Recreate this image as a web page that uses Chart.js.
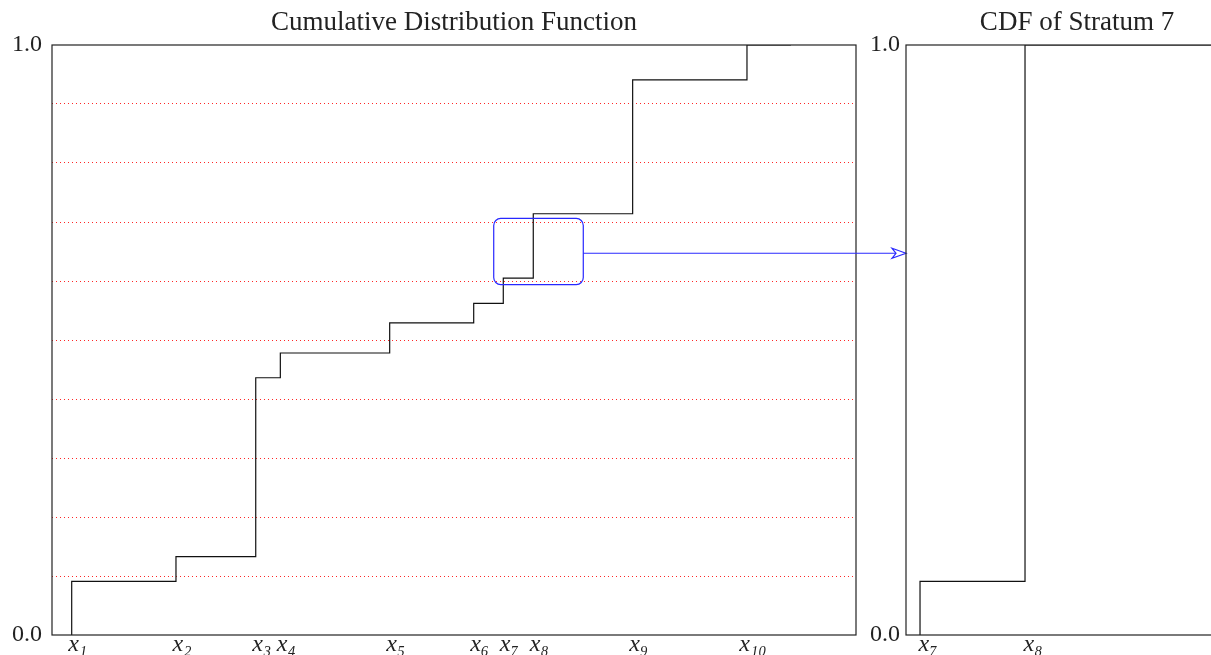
<!DOCTYPE html>
<html>
<head>
<meta charset="utf-8">
<title>Cumulative Distribution Function</title>
<script src="https://cdn.jsdelivr.net/npm/chart.js@4/dist/chart.umd.min.js"></script>
<style>
  html, body { margin: 0; padding: 0; background: #fff; overflow: hidden; }
  #mainWrap { position: absolute; left: 0; top: 0; width: 1211px; height: 655px; }
  #sideWrap { position: absolute; left: 856px; top: 0; width: 400px; height: 655px; }
</style>
</head>
<body>
<div id="mainWrap"><canvas id="cdfChart"></canvas></div>
<div id="sideWrap"><canvas id="stratumChart"></canvas></div>
<script>
// step positions and CDF levels of the full sample
const stepX = [2.45, 15.42, 25.34, 28.4, 42.0, 52.45, 56.13, 59.86, 72.22, 86.44];
const cdfValues = [0.091, 0.133, 0.436, 0.478, 0.529, 0.562, 0.605, 0.714, 0.941, 1.0];
const cdfEndX = 91.9;
const stepNames = ['x₁', 'x₂', 'x₃', 'x₄', 'x₅', 'x₆', 'x₇', 'x₈', 'x₉', 'x₁₀'];

// stratum 7 zoom (between x7 and x8)
const stratumX = [4.1, 34.8];
const stratumValues = [0.091, 1.0];
const stratumEndX = 100;
const stratumNames = ['x₇', 'x₈'];

// highlighted region on the main CDF and where the arrow leaves it
const boxX = [54.94, 66.08];
const boxY = [0.594, 0.706];
const arrowLevel = 0.647;

const yLabels = [0, 1];
const gridLevels = [0.1, 0.2, 0.3, 0.4, 0.5, 0.6, 0.7, 0.8, 0.9];

Chart.defaults.font.family = "'Liberation Serif', 'DejaVu Serif', serif";
Chart.defaults.color = '#222';

function stepPoints(xs, ys, endX) {
  const pts = [{ x: xs[0], y: 0 }];
  xs.forEach((x, i) => pts.push({ x: x, y: ys[i] }));
  pts.push({ x: endX, y: ys[ys.length - 1] });
  return pts;
}

function frame(chart) {
  const a = chart.chartArea;
  const c = chart.ctx;
  c.save();
  c.strokeStyle = '#222';
  c.lineWidth = 1.2;
  c.strokeRect(a.left, a.top, a.right - a.left, a.bottom - a.top);
  c.restore();
}

function yAxis(width, padding, values) {
  return {
    min: 0, max: 1,
    afterFit: s => { s.width = width; s.paddingTop = 0; s.paddingBottom = 0; },
    afterBuildTicks: s => { s.ticks = values.map(v => ({ value: v })); },
    ticks: {
      padding: padding,
      font: { size: 24, lineHeight: 1 },
      callback: v => (yLabels.includes(v) ? v.toFixed(1) : '')
    },
    grid: {
      drawTicks: false,
      tickLength: 0,
      color: c => (c.tick && gridLevels.includes(c.tick.value) ? 'rgba(255,0,0,0.85)' : 'rgba(0,0,0,0)'),
      lineWidth: 1
    },
    border: { display: false, dash: [1, 3] }
  };
}

function xAxis(max, positions, names, offset) {
  return {
    type: 'linear', min: 0, max: max,
    afterFit: s => { s.height = 20; s.paddingLeft = 0; s.paddingRight = 0; },
    afterBuildTicks: s => { s.ticks = positions.map(v => ({ value: v })); },
    ticks: {
      autoSkip: false, maxRotation: 0, padding: -2,
      labelOffset: offset,
      font: { size: 24, style: 'italic', lineHeight: 1 },
      callback: (v, i) => names[i]
    },
    grid: { display: false, drawTicks: false, tickLength: 0 },
    border: { display: false }
  };
}

const framePlugin = { id: 'frame', afterDatasetsDraw: frame };

const titleFont = { size: 27, weight: 'normal', lineHeight: 1 };

const sideChart = new Chart(document.getElementById('stratumChart'), {
  type: 'line',
  data: {
    datasets: [{
      data: stepPoints(stratumX, stratumValues, stratumEndX),
      stepped: 'before',
      borderColor: '#111',
      borderWidth: 1.2,
      pointRadius: 0
    }]
  },
  options: {
    responsive: true,
    maintainAspectRatio: false,
    animation: false,
    layout: { padding: { left: 0, right: 8, top: 0, bottom: 0 } },
    plugins: {
      legend: { display: false },
      tooltip: { enabled: false },
      title: {
        display: true, fullSize: false,
        text: 'CDF of Stratum 7',
        color: '#222',
        font: titleFont,
        padding: { top: 9, bottom: 9 }
      }
    },
    scales: {
      x: xAxis(100, stratumX, stratumNames, 8),
      y: yAxis(50, 6, [0, 1])
    }
  },
  plugins: [framePlugin]
});

// blue box around stratum 7 with an arrow to the zoomed panel
const zoomMarker = {
  id: 'zoomMarker',
  afterDatasetsDraw(chart) {
    const c = chart.ctx;
    const xs = chart.scales.x, ys = chart.scales.y;
    const l = xs.getPixelForValue(boxX[0]), r = xs.getPixelForValue(boxX[1]);
    const t = ys.getPixelForValue(boxY[1]), b = ys.getPixelForValue(boxY[0]);
    const ay = ys.getPixelForValue(arrowLevel);
    const tipX = document.getElementById('sideWrap').offsetLeft + sideChart.chartArea.left;
    c.save();
    c.strokeStyle = 'rgb(40,40,255)';
    c.lineWidth = 1.2;
    c.beginPath();
    c.roundRect(l, t, r - l, b - t, 7);
    c.stroke();
    c.beginPath();
    c.moveTo(r, ay);
    c.lineTo(tipX - 10, ay);
    c.stroke();
    c.beginPath();
    c.moveTo(tipX, ay);
    c.lineTo(tipX - 14, ay - 5);
    c.lineTo(tipX - 10, ay);
    c.lineTo(tipX - 14, ay + 5);
    c.closePath();
    c.fillStyle = '#fff';
    c.fill();
    c.stroke();
    c.restore();
  }
};

const mainChart = new Chart(document.getElementById('cdfChart'), {
  type: 'line',
  data: {
    datasets: [{
      data: stepPoints(stepX, cdfValues, cdfEndX),
      stepped: 'before',
      borderColor: '#111',
      borderWidth: 1.2,
      pointRadius: 0
    }]
  },
  options: {
    responsive: true,
    maintainAspectRatio: false,
    animation: false,
    layout: { padding: { left: 0, right: 355, top: 0, bottom: 0 } },
    plugins: {
      legend: { display: false },
      tooltip: { enabled: false },
      title: {
        display: true, fullSize: false,
        text: 'Cumulative Distribution Function',
        color: '#222',
        font: titleFont,
        padding: { top: 9, bottom: 9 }
      }
    },
    scales: {
      x: xAxis(100, stepX, stepNames, 6),
      y: yAxis(52, 10, [0, ...gridLevels, 1])
    }
  },
  plugins: [framePlugin, zoomMarker]
});
</script>
</body>
</html>
